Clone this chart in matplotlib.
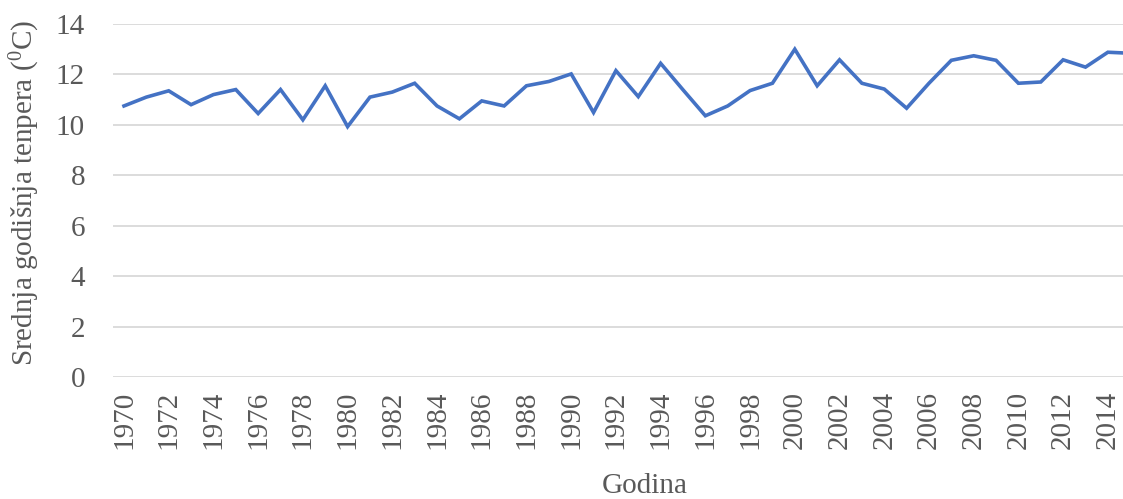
import matplotlib
matplotlib.use("Agg")
import matplotlib.pyplot as plt

years = list(range(1970, 2016))
temps = [10.75, 11.1, 11.35, 10.8, 11.2, 11.4, 10.45, 11.4, 10.2, 11.55,
         9.93, 11.1, 11.3, 11.65, 10.75, 10.24, 10.95, 10.75, 11.55, 11.72,
         12.02, 10.49, 12.15, 11.12, 12.44, 11.39, 10.36, 10.75, 11.36, 11.65,
         13.0, 11.55, 12.58, 11.65, 11.42, 10.66, 11.65, 12.56, 12.74, 12.56,
         11.65, 11.7, 12.58, 12.29, 12.88, 12.84]
xtick_years = list(range(1970, 2015, 2))
yticks = [0, 2, 4, 6, 8, 10, 12, 14]

plt.rcParams['font.family'] = ['Liberation Serif', 'DejaVu Serif']
text_color = '#595959'
fs = 21

fig = plt.figure(figsize=(11.23, 4.99), dpi=100)
left = 112.8 / 1123
width = (1141.4 - 112.8) / 1123
bottom = 1 - 377 / 499
height = (377 - 24) / 499
ax = fig.add_axes([left, bottom, width, height])

ax.plot(years, temps, color='#4472C4', linewidth=2.6, solid_joinstyle='miter', zorder=3)

ax.set_xlim(1969.5, 2015.5)
ax.set_ylim(0, 14)
ax.set_yticks(yticks)
ax.set_xticks(xtick_years)
ax.set_xticklabels([str(y) for y in xtick_years], rotation=90)
ax.grid(axis='y', color='#D9D9D9', linewidth=1.3, zorder=0)
ax.grid(axis='x', visible=False)
for s in ax.spines.values():
    s.set_visible(False)
ax.tick_params(axis='both', length=0, labelsize=fs, labelcolor=text_color)
ax.tick_params(axis='y', pad=20)
ax.tick_params(axis='x', pad=10)

fig.text(25 / 1123, 1 - 193.5 / 499, 'Srednja godišnja tenpera ($\\mathregular{^0}$C)',
         fontsize=fs, color=text_color, rotation=90, ha='center', va='center')
fig.text(645 / 1123, 1 - 486 / 499, 'Godina', fontsize=fs, color=text_color,
         ha='center', va='center')

fig.savefig('out.png', dpi=100)
